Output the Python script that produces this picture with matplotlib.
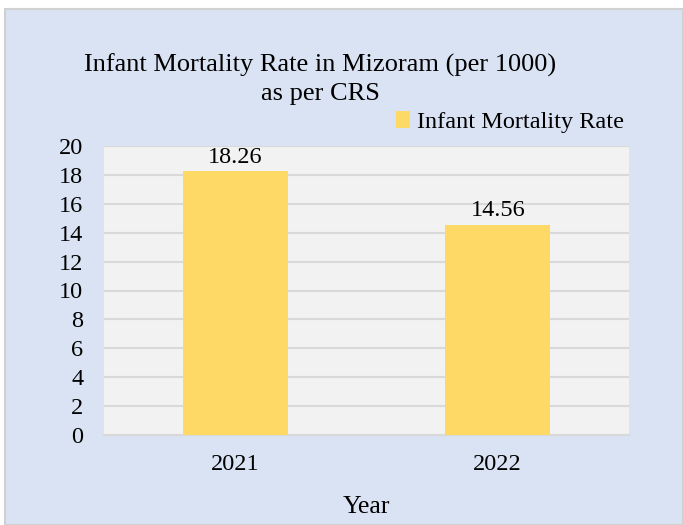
import matplotlib.pyplot as plt
from matplotlib.patches import Rectangle

# data
years = ["2021", "2022"]
imr = [18.26, 14.56]
y_ticks = list(range(0, 21, 2))

plt.rcParams["font.family"] = ["Liberation Serif", "DejaVu Serif"]

fig = plt.figure(figsize=(6.83, 5.25), dpi=100, facecolor="white")

# light blue chart area with a thin grey border, white strip at top/left
bg = Rectangle((5 / 683, 0), 1 - 5 / 683, 1 - 9 / 525, transform=fig.transFigure,
               facecolor="#DAE3F3", edgecolor="#D0D0D0", linewidth=1.5, zorder=-1)
fig.patches.append(bg)

ax = fig.add_axes([104 / 683, 1 - 435 / 525, 525 / 683, 289 / 525])
ax.set_facecolor("#F2F2F2")

x = range(len(years))
bars = ax.bar(x, imr, width=0.4, color="#FFD966", zorder=3, label="Infant Mortality Rate")
for b, v in zip(bars, imr):
    ax.text(b.get_x() + b.get_width() / 2, v + 0.25, f"{v:.2f}", ha="center",
            va="bottom", fontsize=17.5, zorder=4)

ax.set_xlim(-0.5, 1.5)
ax.set_ylim(0, 20)
ax.set_yticks(y_ticks)
ax.set_xticks(list(x))
ax.set_xticklabels(years)
ax.tick_params(length=0, labelsize=17.5)
ax.tick_params(axis="y", pad=15)
ax.tick_params(axis="x", pad=14)
ax.grid(axis="y", color="#D9D9D9", linewidth=1.5, zorder=1)
for s in ["top", "right", "left"]:
    ax.spines[s].set_visible(False)
ax.spines["bottom"].set_color("#D9D9D9")
ax.spines["bottom"].set_linewidth(1.5)

ax.set_xlabel("Year", fontsize=18.5, labelpad=15)

fig.text(0.469, 1 - 79 / 525, "Infant Mortality Rate in Mizoram (per 1000)\nas per CRS",
         ha="center", va="center", fontsize=19, linespacing=1.35)

ax.legend(loc="lower right", bbox_to_anchor=(1.0, 1.028), frameon=False, fontsize=17.5,
          handlelength=0.55, handleheight=0.65, handletextpad=0.3, borderaxespad=0,
          borderpad=0.2)

fig.savefig("out.png", dpi=100, facecolor=fig.get_facecolor())
